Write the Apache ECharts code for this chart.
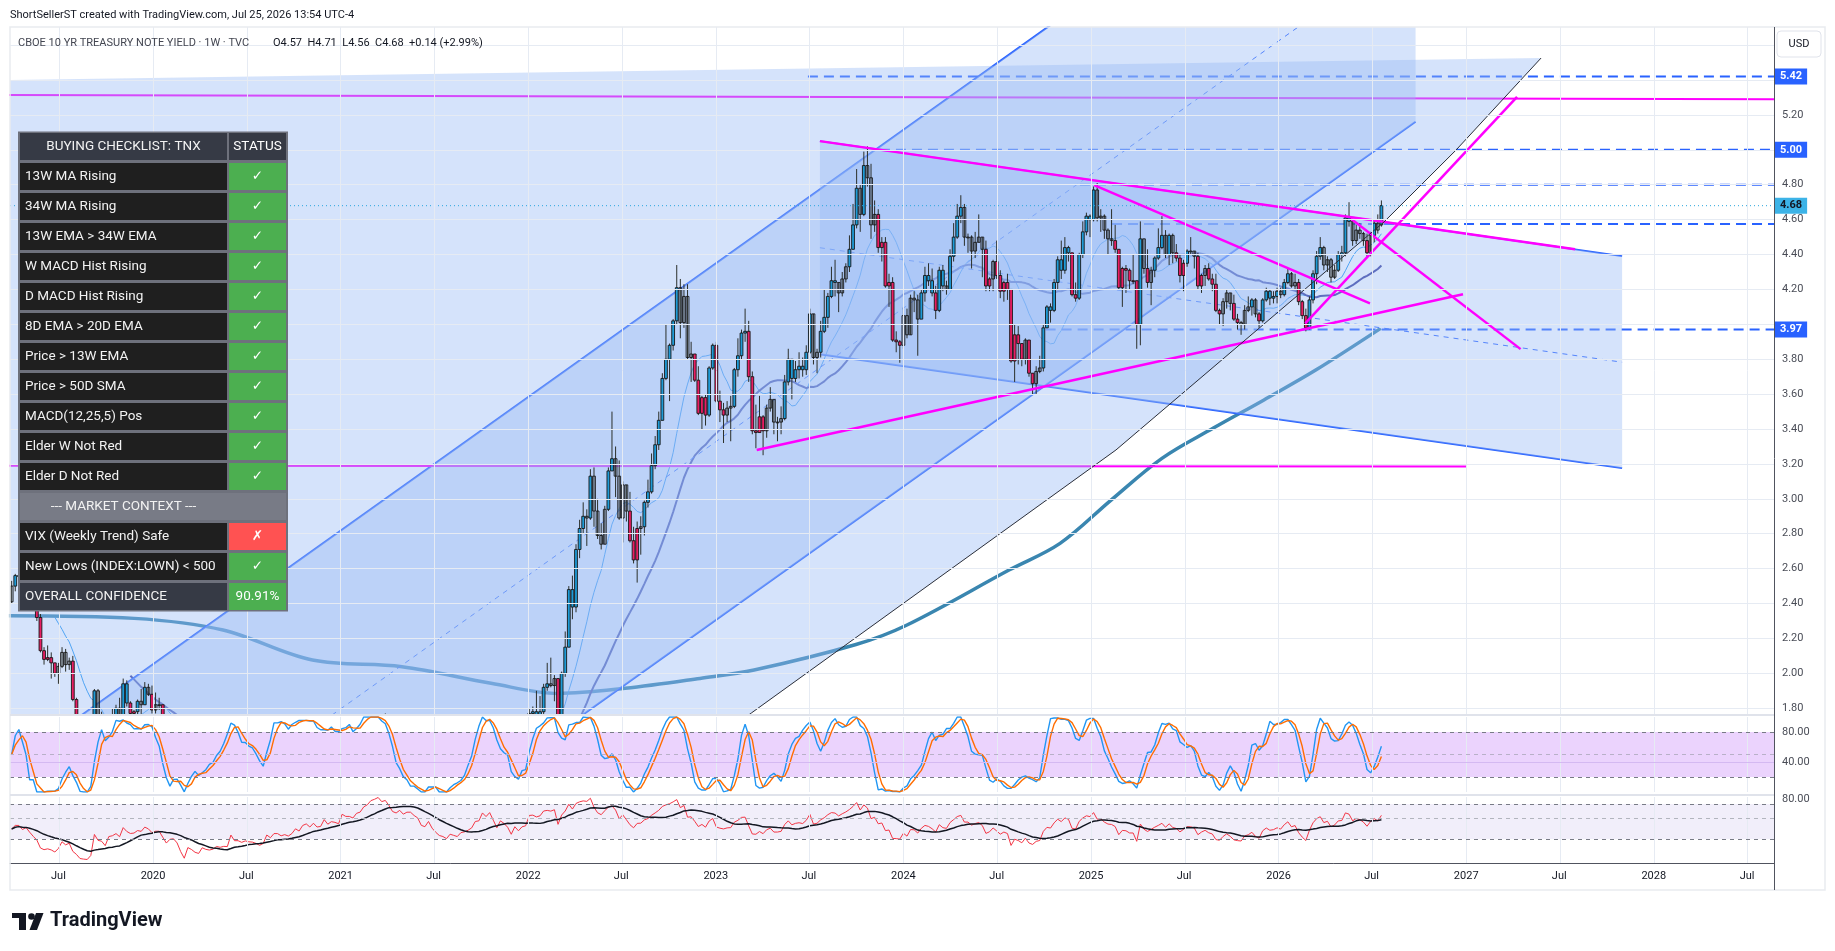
<!DOCTYPE html>
<html><head><meta charset="utf-8">
<script src="https://cdn.jsdelivr.net/npm/echarts@6/dist/echarts.min.js"></script>
<style>html,body{margin:0;padding:0;background:#fff}#c{width:1835px;height:951px}</style>
</head><body><div id="c"></div>
<script>
// ---------- weekly OHLC [open, high, low, close], first bar = week of 2019-04-01 ----------
const ohlc2019=[[2.41,2.53,2.40,2.50],[2.50,2.57,2.47,2.56],[2.56,2.60,2.54,2.56],[2.56,2.60,2.49,2.50],[2.50,2.57,2.45,2.53],[2.53,2.54,2.38,2.46],[2.46,2.47,2.36,2.39],[2.39,2.43,2.30,2.32],[2.32,2.34,2.12,2.13],[2.13,2.15,2.05,2.08],[2.08,2.16,2.07,2.09],[2.09,2.12,1.97,2.06],[2.06,2.06,1.98,2.00],[2.00,2.06,1.94,2.04],[2.04,2.15,2.03,2.12],[2.12,2.14,2.01,2.05],[2.05,2.09,2.02,2.07],[2.07,2.10,1.84,1.85],[1.85,1.86,1.60,1.74],[1.74,1.74,1.47,1.55],[1.55,1.63,1.50,1.52],[1.52,1.55,1.43,1.50],[1.50,1.59,1.43,1.55],[1.55,1.91,1.55,1.90],[1.90,1.91,1.72,1.72],[1.72,1.78,1.63,1.69],[1.69,1.70,1.51,1.53],[1.53,1.76,1.51,1.73],[1.73,1.80,1.72,1.75],[1.75,1.82,1.74,1.80],[1.80,1.86,1.68,1.71],[1.71,1.97,1.71,1.94],[1.94,1.96,1.81,1.83],[1.83,1.84,1.73,1.77],[1.77,1.79,1.72,1.78],[1.78,1.85,1.70,1.84],[1.84,1.91,1.76,1.82],[1.82,1.95,1.82,1.92],[1.92,1.94,1.87,1.88],[1.88,1.93,1.77,1.79]];
const ohlc2020=[[1.79,1.89,1.77,1.82],[1.82,1.86,1.79,1.82],[1.82,1.82,1.67,1.68],[1.68,1.68,1.50,1.51],[1.51,1.68,1.50,1.58],[1.58,1.65,1.56,1.59],[1.59,1.60,1.46,1.47],[1.47,1.47,1.11,1.13],[1.13,1.14,0.66,0.71],[0.71,0.99,0.32,0.96],[0.96,1.28,0.74,0.85],[0.85,0.91,0.66,0.67],[0.67,0.75,0.56,0.59],[0.59,0.79,0.58,0.73],[0.73,0.79,0.58,0.64],[0.64,0.66,0.56,0.60],[0.60,0.67,0.58,0.62],[0.62,0.74,0.57,0.68],[0.68,0.74,0.59,0.64],[0.64,0.71,0.63,0.66],[0.66,0.72,0.62,0.65],[0.65,0.95,0.64,0.90],[0.90,0.91,0.65,0.70],[0.70,0.77,0.67,0.70],[0.70,0.73,0.63,0.64],[0.64,0.71,0.63,0.67],[0.67,0.70,0.60,0.64],[0.64,0.66,0.58,0.63],[0.63,0.63,0.57,0.59],[0.59,0.61,0.52,0.53],[0.53,0.57,0.51,0.56],[0.56,0.73,0.55,0.71],[0.71,0.72,0.62,0.64],[0.64,0.79,0.63,0.72],[0.72,0.73,0.60,0.72],[0.72,0.72,0.65,0.67],[0.67,0.71,0.66,0.69],[0.69,0.70,0.64,0.66],[0.66,0.70,0.63,0.70],[0.70,0.80,0.68,0.78],[0.78,0.79,0.71,0.74],[0.74,0.87,0.73,0.84],[0.84,0.88,0.75,0.87],[0.87,0.94,0.73,0.82],[0.82,0.97,0.81,0.89],[0.89,0.91,0.82,0.83],[0.83,0.88,0.82,0.84],[0.84,0.97,0.83,0.97],[0.97,0.97,0.89,0.90],[0.90,0.96,0.88,0.95],[0.95,0.96,0.91,0.94],[0.94,0.95,0.90,0.92]];
const ohlc2021=[[0.92,1.13,0.90,1.12],[1.12,1.19,1.07,1.09],[1.09,1.12,1.07,1.09],[1.09,1.10,1.00,1.07],[1.07,1.19,1.06,1.17],[1.17,1.22,1.12,1.20],[1.20,1.36,1.20,1.34],[1.34,1.61,1.33,1.41],[1.41,1.62,1.39,1.57],[1.57,1.64,1.50,1.63],[1.63,1.75,1.60,1.72],[1.72,1.72,1.60,1.67],[1.67,1.77,1.67,1.72],[1.72,1.74,1.61,1.66],[1.66,1.70,1.53,1.58],[1.58,1.63,1.54,1.56],[1.56,1.69,1.55,1.63],[1.63,1.64,1.47,1.58],[1.58,1.70,1.57,1.63],[1.63,1.69,1.60,1.63],[1.63,1.63,1.56,1.59],[1.59,1.65,1.55,1.56],[1.56,1.57,1.43,1.46],[1.46,1.59,1.44,1.44],[1.44,1.54,1.39,1.53],[1.53,1.53,1.42,1.43],[1.43,1.44,1.25,1.36],[1.36,1.42,1.29,1.30],[1.30,1.31,1.13,1.28],[1.28,1.30,1.22,1.24],[1.24,1.32,1.13,1.30],[1.30,1.38,1.27,1.28],[1.28,1.29,1.22,1.26],[1.26,1.37,1.25,1.31],[1.31,1.34,1.26,1.32],[1.32,1.38,1.28,1.34],[1.34,1.38,1.26,1.37],[1.37,1.47,1.28,1.46],[1.46,1.57,1.45,1.47],[1.47,1.62,1.46,1.61],[1.61,1.63,1.50,1.57],[1.57,1.70,1.56,1.65],[1.65,1.66,1.52,1.56],[1.56,1.62,1.43,1.45],[1.45,1.58,1.41,1.58],[1.58,1.64,1.52,1.54],[1.54,1.69,1.47,1.48],[1.48,1.52,1.33,1.35],[1.35,1.53,1.33,1.49],[1.49,1.52,1.38,1.41],[1.41,1.50,1.36,1.49],[1.49,1.55,1.45,1.51]];
const ohlc2022=[[1.51,1.80,1.50,1.77],[1.77,1.81,1.70,1.78],[1.78,1.90,1.72,1.75],[1.75,1.87,1.72,1.78],[1.78,1.94,1.74,1.92],[1.92,2.06,1.90,1.94],[1.94,2.09,1.92,1.93],[1.93,1.99,1.84,1.97],[1.97,1.97,1.68,1.74],[1.74,2.01,1.73,2.00],[2.00,2.24,1.98,2.15],[2.15,2.50,2.15,2.48],[2.48,2.56,2.31,2.38],[2.38,2.74,2.35,2.71],[2.71,2.88,2.66,2.83],[2.83,2.98,2.80,2.90],[2.90,2.94,2.73,2.89],[2.89,3.17,2.88,3.13],[3.13,3.18,2.84,2.93],[2.93,3.00,2.77,2.79],[2.79,2.86,2.71,2.74],[2.74,2.96,2.74,2.94],[2.94,3.18,2.93,3.16],[3.16,3.50,3.16,3.23],[3.23,3.30,3.01,3.13],[3.13,3.22,2.88,2.89],[2.89,3.10,2.75,3.08],[3.08,3.08,2.87,2.93],[2.93,3.04,2.75,2.76],[2.76,2.84,2.63,2.65],[2.65,2.87,2.52,2.83],[2.83,2.90,2.68,2.84],[2.84,2.99,2.79,2.98],[2.98,3.11,2.95,3.04],[3.04,3.26,3.03,3.19],[3.19,3.36,3.17,3.31],[3.31,3.50,3.28,3.45],[3.45,3.72,3.45,3.69],[3.69,4.00,3.68,3.80],[3.80,3.89,3.56,3.88],[3.88,4.03,3.85,4.02],[4.02,4.34,4.00,4.21],[4.21,4.26,3.92,4.01],[4.01,4.23,3.98,4.16],[4.16,4.23,3.80,3.81],[3.81,3.90,3.67,3.83],[3.83,3.83,3.67,3.68],[3.68,3.76,3.48,3.49],[3.49,3.59,3.40,3.58],[3.58,3.60,3.42,3.48],[3.48,3.76,3.47,3.75],[3.75,3.89,3.74,3.88]];
const ohlc2023=[[3.88,3.90,3.55,3.56],[3.56,3.62,3.44,3.51],[3.51,3.55,3.32,3.48],[3.48,3.56,3.44,3.52],[3.52,3.59,3.33,3.53],[3.53,3.75,3.52,3.74],[3.74,3.92,3.70,3.82],[3.82,3.97,3.80,3.95],[3.95,4.09,3.90,3.96],[3.96,4.02,3.67,3.70],[3.70,3.73,3.37,3.39],[3.39,3.54,3.29,3.38],[3.38,3.59,3.38,3.47],[3.47,3.48,3.25,3.39],[3.39,3.54,3.35,3.52],[3.52,3.64,3.50,3.57],[3.57,3.57,3.37,3.44],[3.44,3.47,3.33,3.44],[3.44,3.53,3.37,3.46],[3.46,3.71,3.45,3.67],[3.67,3.86,3.65,3.80],[3.80,3.80,3.57,3.69],[3.69,3.79,3.67,3.74],[3.74,3.84,3.69,3.76],[3.76,3.81,3.70,3.74],[3.74,3.88,3.71,3.84],[3.84,4.09,3.83,4.06],[4.06,4.06,3.77,3.81],[3.81,3.86,3.72,3.84],[3.84,4.02,3.81,3.96],[3.96,4.20,3.95,4.04],[4.04,4.18,3.98,4.16],[4.16,4.33,4.15,4.25],[4.25,4.37,4.16,4.24],[4.24,4.24,4.07,4.18],[4.18,4.30,4.16,4.26],[4.26,4.35,4.24,4.33],[4.33,4.51,4.30,4.43],[4.43,4.69,4.43,4.57],[4.57,4.89,4.55,4.78],[4.78,4.80,4.53,4.63],[4.63,4.99,4.62,4.91],[4.91,5.02,4.79,4.84],[4.84,4.92,4.49,4.57],[4.57,4.71,4.53,4.63],[4.63,4.66,4.41,4.44],[4.44,4.50,4.36,4.47],[4.47,4.50,4.21,4.22],[4.22,4.29,4.10,4.24],[4.24,4.27,3.90,3.91],[3.91,3.96,3.84,3.90],[3.90,3.91,3.78,3.88]];
const ohlc2024=[[3.88,4.10,3.86,4.05],[4.05,4.09,3.92,3.94],[3.94,4.17,3.94,4.15],[4.15,4.19,4.07,4.14],[4.14,4.17,3.82,4.03],[4.03,4.20,4.03,4.18],[4.18,4.33,4.13,4.28],[4.28,4.35,4.22,4.25],[4.25,4.32,4.16,4.18],[4.18,4.22,4.03,4.08],[4.08,4.33,4.07,4.31],[4.31,4.34,4.19,4.22],[4.22,4.25,4.17,4.20],[4.20,4.43,4.20,4.39],[4.39,4.58,4.36,4.50],[4.50,4.69,4.49,4.62],[4.62,4.74,4.58,4.67],[4.67,4.69,4.45,4.50],[4.50,4.52,4.41,4.50],[4.50,4.51,4.32,4.42],[4.42,4.53,4.38,4.47],[4.47,4.63,4.47,4.50],[4.50,4.50,4.27,4.43],[4.43,4.48,4.19,4.22],[4.22,4.27,4.19,4.26],[4.26,4.37,4.19,4.36],[4.36,4.48,4.26,4.28],[4.28,4.31,4.15,4.19],[4.19,4.25,4.13,4.24],[4.24,4.29,4.14,4.20],[4.20,4.20,3.78,3.79],[3.79,4.00,3.67,3.94],[3.94,3.99,3.77,3.89],[3.89,3.89,3.76,3.80],[3.80,3.92,3.77,3.91],[3.91,3.91,3.70,3.72],[3.72,3.72,3.60,3.66],[3.66,3.76,3.60,3.73],[3.73,3.82,3.72,3.75],[3.75,4.00,3.73,3.98],[3.98,4.11,3.98,4.10],[4.10,4.12,4.01,4.08],[4.08,4.26,4.07,4.24],[4.24,4.39,4.20,4.37],[4.37,4.48,4.26,4.31],[4.31,4.50,4.29,4.44],[4.44,4.45,4.36,4.41],[4.41,4.41,4.16,4.17],[4.17,4.24,4.13,4.15],[4.15,4.41,4.14,4.40],[4.40,4.59,4.38,4.53],[4.53,4.64,4.51,4.62],[4.62,4.63,4.50,4.60]];
const ohlc2025=[[4.60,4.79,4.59,4.77],[4.77,4.81,4.59,4.61],[4.61,4.66,4.53,4.62],[4.62,4.63,4.49,4.54],[4.54,4.55,4.40,4.49],[4.49,4.66,4.45,4.48],[4.48,4.57,4.41,4.43],[4.43,4.43,4.20,4.21],[4.21,4.33,4.10,4.32],[4.32,4.34,4.18,4.31],[4.31,4.32,4.20,4.25],[4.25,4.40,4.23,4.25],[4.25,4.25,3.86,4.00],[4.00,4.59,3.88,4.49],[4.49,4.49,4.29,4.32],[4.32,4.43,4.21,4.24],[4.24,4.33,4.11,4.31],[4.31,4.39,4.27,4.38],[4.38,4.55,4.37,4.44],[4.44,4.62,4.43,4.51],[4.51,4.54,4.38,4.40],[4.40,4.52,4.34,4.51],[4.51,4.52,4.35,4.41],[4.41,4.46,4.36,4.38],[4.38,4.40,4.24,4.28],[4.28,4.37,4.19,4.35],[4.35,4.43,4.33,4.42],[4.42,4.50,4.40,4.42],[4.42,4.42,4.32,4.39],[4.39,4.41,4.20,4.22],[4.22,4.29,4.18,4.28],[4.28,4.34,4.22,4.32],[4.32,4.35,4.25,4.26],[4.26,4.29,4.19,4.23],[4.23,4.29,4.07,4.08],[4.08,4.09,4.00,4.06],[4.06,4.15,3.99,4.13],[4.13,4.20,4.09,4.18],[4.18,4.18,4.08,4.12],[4.12,4.17,4.02,4.03],[4.03,4.06,3.97,4.01],[4.01,4.02,3.94,4.00],[4.00,4.11,3.97,4.08],[4.08,4.16,4.07,4.10],[4.10,4.15,4.05,4.14],[4.14,4.15,4.04,4.06],[4.06,4.07,3.98,4.02],[4.02,4.15,4.01,4.14],[4.14,4.21,4.13,4.19],[4.19,4.20,4.11,4.15],[4.15,4.19,4.12,4.16],[4.16,4.21,4.12,4.19]];
const ohlc2026=[[4.19,4.21,4.15,4.17],[4.17,4.26,4.16,4.24],[4.24,4.32,4.23,4.29],[4.29,4.30,4.21,4.22],[4.22,4.29,4.20,4.24],[4.24,4.26,4.11,4.13],[4.13,4.14,4.03,4.05],[4.05,4.09,3.96,3.98],[3.98,4.16,3.97,4.14],[4.14,4.31,4.12,4.29],[4.29,4.42,4.23,4.39],[4.39,4.50,4.37,4.44],[4.44,4.45,4.31,4.34],[4.34,4.39,4.30,4.37],[4.37,4.38,4.24,4.27],[4.27,4.34,4.26,4.31],[4.31,4.42,4.30,4.40],[4.40,4.45,4.36,4.41],[4.41,4.63,4.39,4.61],[4.61,4.70,4.56,4.59],[4.59,4.60,4.45,4.48],[4.48,4.57,4.46,4.54],[4.54,4.58,4.49,4.52],[4.52,4.53,4.45,4.48],[4.48,4.52,4.38,4.41],[4.41,4.53,4.39,4.51],[4.51,4.60,4.47,4.58],[4.58,4.63,4.52,4.54],[4.57,4.71,4.56,4.68]];

// 200-week MA (decimal year, value)
const ma200Time=[2019.232,2019.899,2020.373,2020.850,2021.327,2021.802,2022.159,2022.516,2022.916,2023.204,2023.747,2024.019,2024.563,2024.835,2025.107,2025.378,2025.650,2025.922,2026.198,2026.544];
const ma200Val=[2.330,2.315,2.248,2.076,2.038,1.943,1.885,1.914,1.971,2.019,2.165,2.277,2.592,2.745,2.993,3.232,3.404,3.567,3.738,3.977];

// drawings (decimal year, price)
const bgShape=[[2019.0,5.396],[2027.399,5.526],[2026.946,4.999],[2026.562,4.587],[2025.133,3.280],[2023.190,1.773],[2022.9,1.548],[2019.0,1.548]];
const blackCurve=[[2022.9,1.548],[2023.190,1.773],[2025.133,3.280],[2026.562,4.587],[2026.946,4.999],[2027.399,5.526]];
const riseUpper=[[2019.0,1.286],[2026.73,7.205]];
const riseLower=[[2019.0,-0.757],[2026.73,5.161]];
const riseMid=[[2019.0,0.265],[2026.73,6.183]];
const fallUpper=[[2023.555,5.050],[2027.831,4.391]];
const fallLower=[[2023.555,3.828],[2027.831,3.176]];
const fallMid=[[2023.555,4.439],[2027.831,3.783]];
const magentaLines=[
  [[2023.555,5.05],[2027.58,4.43]],
  [[2023.218,3.280],[2026.983,4.172]],
  [[2025.017,4.798],[2026.487,4.120]],
  [[2026.384,4.607],[2027.290,3.858]],
  [[2026.142,4.006],[2027.271,5.304]]
];
const hLineTop=[[2019.0,5.315],[2028.7,5.290]];
const hLineLow=[[2019.0,3.190],[2027.0,3.186]];
const levelPrice=[5.42,5.00,4.80,4.575,3.97];
const levelStart=[2023.491,2023.875,2024.941,2025.112,2024.758];
const levelLabel=['5.42','5.00','','','3.97'];
const lastPrice=4.68;

// axis ticks
const priceGrid=[1.8,2.0,2.2,2.4,2.6,2.8,3.0,3.2,3.4,3.6,3.8,4.0,4.2,4.4,4.6,4.8,5.0,5.2,5.4,5.6];
const priceLabels=[1.8,2.0,2.2,2.4,2.6,2.8,3.0,3.2,3.4,3.6,3.8,4.2,4.4,4.6,4.8,5.0,5.2];
const timeTicks=['2019-07','2020-01','2020-07','2021-01','2021-07','2022-01','2022-07','2023-01','2023-07','2024-01','2024-07','2025-01','2025-07','2026-01','2026-07','2027-01','2027-07','2028-01','2028-07'];

// table
const tableHeader=['BUYING CHECKLIST: TNX','STATUS'];
const checkItems=['13W MA Rising','34W MA Rising','13W EMA > 34W EMA','W MACD Hist Rising','D MACD Hist Rising','8D EMA > 20D EMA','Price > 13W EMA','Price > 50D SMA','MACD(12,25,5) Pos','Elder W Not Red','Elder D Not Red'];
const checkStatus=['✓','✓','✓','✓','✓','✓','✓','✓','✓','✓','✓'];
const contextTitle='--- MARKET CONTEXT ---';
const contextItems=['VIX (Weekly Trend) Safe','New Lows (INDEX:LOWN) < 500'];
const contextStatus=['✗','✓'];
const overallRow=['OVERALL CONFIDENCE','90.91%'];

// ---------- helpers ----------
function decYear(ms){const d=new Date(ms),y=d.getUTCFullYear(),a=Date.UTC(y,0,1),b=Date.UTC(y+1,0,1);return y+(ms-a)/(b-a);}
const T0=2019.2377,T1=2028.6407;
const ohlc=[].concat(ohlc2019,ohlc2020,ohlc2021,ohlc2022,ohlc2023,ohlc2024,ohlc2025,ohlc2026);
const WEEK=7*864e5,START=Date.UTC(2019,3,1);
const times=ohlc.map((_,i)=>decYear(START+i*WEEK));
const closes=ohlc.map(r=>r[3]);
function sma(a,n,strict){return a.map((_,i)=>{if(strict&&i<n-1)return null;let s=0,c=0;for(let j=Math.max(0,i-n+1);j<=i;j++){if(a[j]!=null){s+=a[j];c++;}}return c?s/c:null;});}
function ema(a,n){const k=2/(n+1);let e=null;return a.map(v=>{e=e==null?v:e+k*(v-e);return e;});}
// Wilder RSI, warm-up seeded with a neutral state (equal average gain / loss)
function rsiCalc(c,n){const out=[50];let ag=0.03,al=0.03;for(let i=1;i<c.length;i++){const ch=c[i]-c[i-1];ag+=(Math.max(ch,0)-ag)/n;al+=(Math.max(-ch,0)-al)/n;out.push(100-100/(1+ag/al));}return out;}
const ma13=sma(closes,13,true),ma34=sma(closes,34,true);
const rsi=rsiCalc(closes,14);
const rsiMa=sma(rsi,14,false);
const stRaw=rsi.map((v,i)=>{let lo=1e9,hi=-1e9;for(let j=Math.max(0,i-13);j<=i;j++){lo=Math.min(lo,rsi[j]);hi=Math.max(hi,rsi[j]);}return hi>lo?(v-lo)/(hi-lo)*100:50;});
const stK=sma(stRaw,3,false),stD=sma(stK,3,false);
const e13=ema(closes,13),e12=ema(closes,12),e26=ema(closes,26);
const macd=e12.map((v,i)=>v-e26[i]);const sig=ema(macd,9);const hist=macd.map((v,i)=>v-sig[i]);
const impulse=closes.map((_,i)=>{if(i===0)return 0;if(e13[i]>e13[i-1]&&hist[i]>hist[i-1])return 1;if(e13[i]<e13[i-1]&&hist[i]<hist[i-1])return -1;return 0;});
const candleData=ohlc.map((r,i)=>[times[i],r[0],r[3],r[2],r[1],impulse[i]]);
const tickT=timeTicks.map(s=>{const p=s.split('-').map(Number);return decYear(Date.UTC(p[0],p[1]-1,1));});
const tickLab=timeTicks.map(s=>s.endsWith('-01')?s.slice(0,4):'Jul');
const FONT="Roboto, 'Noto Sans', 'DejaVu Sans', sans-serif";
const FILL='rgba(150,185,245,0.4)';

function seg(pts,color,width,type,z,extra){return Object.assign({type:'line',xAxisIndex:0,yAxisIndex:0,data:pts,symbol:'none',silent:true,z:z,clip:true,lineStyle:{color:color,width:width,type:type}},extra||{});}
function clipRect(cs){return {type:'rect',shape:{x:cs.x,y:cs.y,width:cs.width,height:cs.height}};}
function poly(pts,z){return {type:'custom',xAxisIndex:0,yAxisIndex:0,z:z,silent:true,clip:true,data:[[2020,3]],
  renderItem:function(params,api){return {type:'polygon',shape:{points:pts.map(p=>api.coord(p))},style:{fill:FILL},clipPath:clipRect(params.coordSys)};}};}
function vLines(){return tickT.map(t=>({xAxis:t}));}

const series=[];
// gridlines main
series.push({type:'line',xAxisIndex:0,yAxisIndex:0,data:[[2020,3]],symbol:'none',lineStyle:{opacity:0},z:0,silent:true,
  markLine:{silent:true,symbol:'none',label:{show:false},lineStyle:{color:'#e6ebf3',width:1,type:'solid'},data:priceGrid.map(v=>({yAxis:v})).concat(vLines())}});
// under-fill items
series.push(seg(ma200Time.map((t,i)=>[t,ma200Val[i]]),'#3a86b0',3.5,'solid',1,{smooth:0.35}));
series.push(seg(times.map((t,i)=>[t,ma13[i]]),'#2196f3',1,'solid',1));
series.push(seg(times.map((t,i)=>[t,ma34[i]]),'#3a3d9c',2,'solid',1));
series.push(seg(riseUpper,'#2962ff',2,'solid',1));
series.push(seg(riseLower,'#2962ff',2,'solid',1));
series.push(seg(riseMid,'#2962ff',1,[5,5],1));
series.push(seg(fallUpper,'#2962ff',2,'solid',1));
series.push(seg(fallLower,'#2962ff',2,'solid',1));
series.push(seg(fallMid,'#2962ff',1,[5,5],1));
series.push(seg(hLineTop,'#ff00ff',2,'solid',1));
series.push(seg(hLineLow,'#ff00ff',2,'solid',1));
levelPrice.forEach((p,i)=>{
  const ex={};
  if(levelLabel[i]) ex.endLabel={show:true,formatter:levelLabel[i],color:'#ffffff',backgroundColor:'#2962ff',padding:[3,5,2,5],fontSize:11,fontWeight:'bold',fontFamily:FONT,distance:1};
  series.push(seg([[levelStart[i],p],[T1,p]],'#2962ff',2,[10,6],1,ex));
});
// fills
series.push(poly(bgShape,2));
series.push(poly([riseUpper[0],riseUpper[1],riseLower[1],riseLower[0]],2));
series.push(poly([fallUpper[0],fallUpper[1],fallLower[1],fallLower[0]],2));
// over-fill items
series.push(seg([[T0,lastPrice],[T1,lastPrice]],'#2aa6dd',1,[1,3],3,{endLabel:{show:true,formatter:lastPrice.toFixed(2),color:'#131722',backgroundColor:'#3cb3e7',padding:[3,5,2,5],fontSize:11,fontWeight:'bold',fontFamily:FONT,distance:1}}));
// candles (custom, clipped to the price pane)
series.push({type:'custom',xAxisIndex:0,yAxisIndex:0,z:3,silent:true,clip:true,encode:{x:0,y:[1,2,3,4]},data:candleData,
  renderItem:function(params,api){
    const t=api.value(0),o=api.value(1),c=api.value(2),l=api.value(3),h=api.value(4),imp=api.value(5);
    const po=api.coord([t,o]),pc=api.coord([t,c]),pl=api.coord([t,l]),ph=api.coord([t,h]);
    const x=po[0],w=2.8,top=Math.min(po[1],pc[1]),hh=Math.max(Math.abs(po[1]-pc[1]),0.8);
    const fill=imp===1?'#1e9bd7':imp===-1?'#e91e63':'rgba(255,255,255,0)';
    return {type:'group',clipPath:clipRect(params.coordSys),children:[
      {type:'line',shape:{x1:x,y1:ph[1],x2:x,y2:pl[1]},style:{stroke:'#2b2f2a',lineWidth:1}},
      {type:'rect',shape:{x:x-w/2,y:top,width:w,height:hh},style:{fill:fill,stroke:'#161616',lineWidth:0.9}}]};
  }});
magentaLines.forEach(l=>series.push(seg(l,'#ff00ff',2.5,'solid',4)));
series.push(seg(blackCurve,'#2a2e39',1,'solid',4));

// stoch pane
series.push({type:'line',xAxisIndex:1,yAxisIndex:1,data:[[2020,50]],symbol:'none',lineStyle:{opacity:0},z:0,silent:true,
  markArea:{silent:true,itemStyle:{color:'#ebd3fd'},data:[[{yAxis:20},{yAxis:80}]]},
  markLine:{silent:true,symbol:'none',label:{show:false},lineStyle:{color:'#e6ebf3',width:1,type:'solid'},data:vLines()}});
series.push({type:'line',xAxisIndex:1,yAxisIndex:1,data:[[2020,50]],symbol:'none',lineStyle:{opacity:0},z:1,silent:true,
  markLine:{silent:true,symbol:'none',label:{show:false},data:[
    {yAxis:40,lineStyle:{color:'#d4b9f2',width:1,type:'solid'}},
    {yAxis:80,lineStyle:{color:'#787b86',width:1,type:[4,4]}},
    {yAxis:50,lineStyle:{color:'#b8b0c8',width:1,type:[4,4]}},
    {yAxis:20,lineStyle:{color:'#787b86',width:1,type:[4,4]}}]}});
series.push({type:'line',xAxisIndex:1,yAxisIndex:1,data:times.map((t,i)=>[t,stK[i]]),symbol:'none',silent:true,z:2,lineStyle:{color:'#2196f3',width:1.4}});
series.push({type:'line',xAxisIndex:1,yAxisIndex:1,data:times.map((t,i)=>[t,stD[i]]),symbol:'none',silent:true,z:2,lineStyle:{color:'#ff6d00',width:1.4}});
// rsi pane
series.push({type:'line',xAxisIndex:2,yAxisIndex:2,data:[[2020,50]],symbol:'none',lineStyle:{opacity:0},z:0,silent:true,
  markArea:{silent:true,itemStyle:{color:'#f1eefa'},data:[[{yAxis:40},{yAxis:75}]]},
  markLine:{silent:true,symbol:'none',label:{show:false},lineStyle:{color:'#e6ebf3',width:1,type:'solid'},data:vLines()}});
series.push({type:'line',xAxisIndex:2,yAxisIndex:2,data:[[2020,50]],symbol:'none',lineStyle:{opacity:0},z:1,silent:true,
  markLine:{silent:true,symbol:'none',label:{show:false},data:[
    {yAxis:75,lineStyle:{color:'#787b86',width:1,type:[4,4]}},
    {yAxis:61,lineStyle:{color:'#b2b5be',width:1,type:[4,4]}},
    {yAxis:40,lineStyle:{color:'#787b86',width:1,type:[4,4]}}]}});
series.push({type:'line',xAxisIndex:2,yAxisIndex:2,data:times.map((t,i)=>[t,rsi[i]]),symbol:'none',silent:true,z:2,lineStyle:{color:'#f23645',width:1}});
series.push({type:'line',xAxisIndex:2,yAxisIndex:2,data:times.map((t,i)=>[t,rsiMa[i]]),symbol:'none',silent:true,z:2,lineStyle:{color:'#131722',width:1.5}});

// ---------- graphics (header, table, frame, logo) ----------
const g=[];
g.push({type:'rect',shape:{x:10,y:27,width:1815,height:863},style:{fill:'none',stroke:'#e9ebef',lineWidth:1.5},z:50});
g.push({type:'line',shape:{x1:10,y1:715,x2:1774,y2:715},style:{stroke:'#e0e3eb',lineWidth:2},z:50});
g.push({type:'line',shape:{x1:10,y1:795,x2:1774,y2:795},style:{stroke:'#e0e3eb',lineWidth:2},z:50});
g.push({type:'line',shape:{x1:1774.5,y1:27,x2:1774.5,y2:890},style:{stroke:'#50535e',lineWidth:1},z:50});
g.push({type:'text',x:10,y:15,style:{text:'ShortSellerST created with TradingView.com, Jul 25, 2026 13:54 UTC-4',fill:'#131722',fontSize:11,fontFamily:FONT,verticalAlign:'middle'},z:60});
g.push({type:'text',x:18,y:43,style:{text:'CBOE 10 YR TREASURY NOTE YIELD · 1W · TVC',fill:'#434651',fontSize:11,fontFamily:FONT,verticalAlign:'middle'},z:60});
g.push({type:'text',x:273,y:43,style:{text:'O4.57  H4.71  L4.56  C4.68  +0.14 (+2.99%)',fill:'#131722',fontSize:11,fontFamily:FONT,verticalAlign:'middle'},z:60});
g.push({type:'rect',shape:{x:1777,y:31,width:44,height:26,r:4},style:{fill:'#ffffff',stroke:'#e0e3eb',lineWidth:1},z:60});
g.push({type:'text',x:1799,y:44,style:{text:'USD',fill:'#131722',fontSize:11,fontFamily:FONT,align:'center',verticalAlign:'middle'},z:61});
// table
(function(){
  const X0=18,Y0=131.5,RH=30,W=270,SPLIT=228,FS=13.5;
  const rows=[];
  rows.push({l:tableHeader[0],s:tableHeader[1],lb:'#363a45',sb:'#363a45',center:true});
  checkItems.forEach((t,i)=>rows.push({l:t,s:checkStatus[i],lb:'#1f1f1f',sb:'#4caf50'}));
  rows.push({l:contextTitle,span:true,lb:'#787b86'});
  contextItems.forEach((t,i)=>rows.push({l:t,s:contextStatus[i],lb:'#1f1f1f',sb:contextStatus[i]==='✗'?'#ff5252':'#4caf50'}));
  rows.push({l:overallRow[0],s:overallRow[1],lb:'#363a45',sb:'#4caf50'});
  g.push({type:'rect',shape:{x:X0,y:Y0,width:W,height:RH*rows.length},style:{fill:'#6e717c'},z:70});
  rows.forEach((r,i)=>{
    const y=Y0+i*RH+1.5,h=RH-3;
    if(r.span){
      g.push({type:'rect',shape:{x:X0+2,y:y,width:W-4,height:h},style:{fill:r.lb},z:71});
      g.push({type:'text',x:(X0+2+SPLIT-1)/2,y:y+h/2,style:{text:r.l,fill:'#f2f2f2',fontSize:FS,fontFamily:FONT,align:'center',verticalAlign:'middle'},z:72});
      return;
    }
    g.push({type:'rect',shape:{x:X0+2,y:y,width:SPLIT-1-(X0+2),height:h},style:{fill:r.lb},z:71});
    g.push({type:'rect',shape:{x:SPLIT+1,y:y,width:X0+W-2-(SPLIT+1),height:h},style:{fill:r.sb},z:71});
    if(r.center) g.push({type:'text',x:(X0+2+SPLIT-1)/2,y:y+h/2,style:{text:r.l,fill:'#f2f2f2',fontSize:FS,fontFamily:FONT,align:'center',verticalAlign:'middle'},z:72});
    else g.push({type:'text',x:X0+7,y:y+h/2,style:{text:r.l,fill:'#f2f2f2',fontSize:FS,fontFamily:FONT,verticalAlign:'middle'},z:72});
    g.push({type:'text',x:(SPLIT+1+X0+W-2)/2,y:y+h/2,style:{text:r.s,fill:'#ffffff',fontSize:FS,fontFamily:FONT,fontWeight:(r.s==='✓'||r.s==='✗')?'bold':'normal',align:'center',verticalAlign:'middle'},z:72});
  });
})();
// logo
g.push({type:'rect',shape:{x:12,y:913,width:14,height:5},style:{fill:'#131722'},z:60});
g.push({type:'rect',shape:{x:19,y:913,width:7,height:17},style:{fill:'#131722'},z:60});
g.push({type:'circle',shape:{cx:31.5,cy:916.5,r:3.3},style:{fill:'#131722'},z:60});
g.push({type:'polygon',shape:{points:[[36,913],[43.5,913],[37,930],[29.5,930]]},style:{fill:'#131722'},z:60});
g.push({type:'text',x:50,y:921,style:{text:'TradingView',fill:'#131722',fontSize:20,fontWeight:'bold',fontFamily:FONT,verticalAlign:'middle'},z:60});

const xBase={type:'value',min:T0,max:T1,axisTick:{show:false},splitLine:{show:false}};
const option={
  animation:false,
  backgroundColor:'#ffffff',
  grid:[{left:10,right:61,top:27,height:687},{left:10,right:61,top:717,height:75},{left:10,right:61,top:797,height:66}],
  xAxis:[
    Object.assign({},xBase,{gridIndex:0,axisLine:{show:false},axisLabel:{show:false}}),
    Object.assign({},xBase,{gridIndex:1,axisLine:{show:false},axisLabel:{show:false}}),
    Object.assign({},xBase,{gridIndex:2,axisLine:{show:true,onZero:false,lineStyle:{color:'#50535e',width:1}},
      axisLabel:{show:true,customValues:tickT,margin:8,fontSize:11,color:'#131722',fontFamily:FONT,
        formatter:function(v){let b=-1,bd=1e9;tickT.forEach((t,i)=>{const d=Math.abs(t-v);if(d<bd){bd=d;b=i;}});return bd<0.02?tickLab[b]:'';}}})
  ],
  yAxis:[
    {type:'value',gridIndex:0,position:'right',min:1.767,max:5.704,axisLine:{show:false},axisTick:{show:false},splitLine:{show:false},
      axisLabel:{customValues:priceLabels,margin:8,fontSize:11,color:'#4a4d57',fontFamily:FONT,formatter:v=>Number(v).toFixed(2)}},
    {type:'value',gridIndex:1,position:'right',min:0,max:100,axisLine:{show:false},axisTick:{show:false},splitLine:{show:false},
      axisLabel:{customValues:[80,40],margin:8,fontSize:11,color:'#4a4d57',fontFamily:FONT,formatter:v=>Number(v).toFixed(2)}},
    {type:'value',gridIndex:2,position:'right',min:16,max:82,axisLine:{show:false},axisTick:{show:false},splitLine:{show:false},
      axisLabel:{customValues:[80],margin:8,fontSize:11,color:'#4a4d57',fontFamily:FONT,formatter:v=>Number(v).toFixed(2)}}
  ],
  series:series,
  graphic:g
};
const chart=echarts.init(document.getElementById('c'),null,{renderer:'canvas'});
chart.setOption(option);
</script></body></html>
